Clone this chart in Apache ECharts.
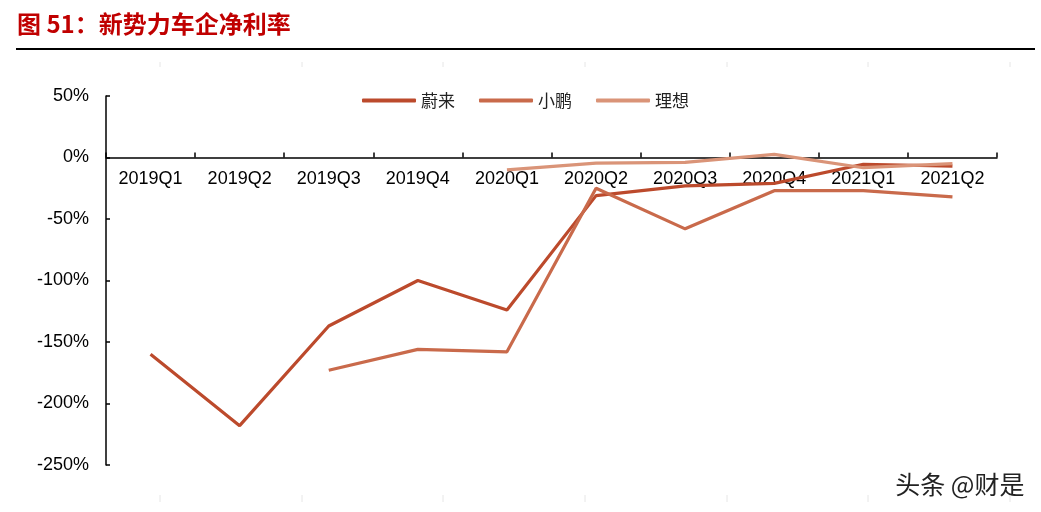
<!DOCTYPE html>
<html>
<head>
<meta charset="utf-8">
<script src="https://cdn.jsdelivr.net/npm/echarts@6/dist/echarts.min.js"></script>
<style>
html,body{margin:0;padding:0;background:#fff;}
#chart{width:1041px;height:512px;}
</style>
</head>
<body>
<div id="chart"></div>
<script>
const categories = ['2019Q1','2019Q2','2019Q3','2019Q4','2020Q1','2020Q2','2020Q3','2020Q4','2021Q1','2021Q2'];
const nio   = [-160, -218, -137, -100, -124, -31, -23, -21, -5.5, -7];
const xpeng = [null, null, -173, -156, -158, -25, -58, -27, -27, -32];
const li    = [null, null, null, null, -10, -4.5, -4, 2.6, -8.3, -5];
const seriesNames = ['蔚来','小鹏','理想'];
const colors = ['#BC4A2C','#C96A4B','#DA9478'];

const chart = echarts.init(document.getElementById('chart'), null, {renderer:'canvas'});
const cjk = '"Noto Sans CJK SC", sans-serif';
const latin = '"Liberation Sans", Arial, sans-serif';

const faint = [];
[160, 302, 443, 585, 727, 868, 1010].forEach(function(x){
  faint.push({type:'line', shape:{x1:x, y1:62, x2:x, y2:67}, style:{stroke:'#e6e6e6', lineWidth:1}, silent:true});
  faint.push({type:'line', shape:{x1:x, y1:495, x2:x, y2:502}, style:{stroke:'#e6e6e6', lineWidth:1}, silent:true});
});

const option = {
  animation: false,
  color: colors,
  grid: {left: 106, right: 44, top: 96, bottom: 47, containLabel: false},
  legend: {
    data: seriesNames,
    left: 362, top: 92,
    padding: 0,
    icon: 'roundRect',
    itemWidth: 54, itemHeight: 4,
    itemGap: 24,
    textStyle: {fontFamily: cjk, fontSize: 17, color: '#222'}
  },
  xAxis: {
    type: 'category',
    data: categories,
    boundaryGap: true,
    position: 'bottom',
    offset: -307.5,
    z: 3,
    axisLine: {onZero: false, lineStyle: {color: '#000', width: 1.5}},
    axisTick: {show: true, inside: true, length: 5, lineStyle: {color: '#000', width: 1.5}},
    axisLabel: {interval: 0, margin: 13, fontSize: 18, color: '#000', fontFamily: latin},
    splitLine: {show: false}
  },
  yAxis: {
    type: 'value',
    min: -250, max: 50, interval: 50,
    axisLine: {show: true, lineStyle: {color: '#000', width: 1.5}},
    axisTick: {show: true, inside: true, length: 4, lineStyle: {color: '#000', width: 1.5}},
    axisLabel: {formatter: '{value}%', margin: 17, fontSize: 18, color: '#000', fontFamily: latin},
    splitLine: {show: false}
  },
  series: [
    {name: seriesNames[0], type: 'line', data: nio, symbol: 'none', lineStyle: {width: 3.2, color: colors[0]}, itemStyle: {color: colors[0]}},
    {name: seriesNames[1], type: 'line', data: xpeng, symbol: 'none', lineStyle: {width: 3.2, color: colors[1]}, itemStyle: {color: colors[1]}},
    {name: seriesNames[2], type: 'line', data: li, symbol: 'none', lineStyle: {width: 3.2, color: colors[2]}, itemStyle: {color: colors[2]}}
  ],
  graphic: [
    {type: 'text', left: 17, top: 12, style: {text: '图 51：新势力车企净利率', fill: '#C00000', font: 'bold 24px "Noto Sans CJK SC", sans-serif'}},
    {type: 'line', shape: {x1: 16, y1: 49, x2: 1035, y2: 49}, style: {stroke: '#000', lineWidth: 2}},
    {type: 'text', right: 16, top: 471, style: {text: '头条 @财是', fill: '#222', stroke: '#fff', lineWidth: 1, font: '25px "Noto Sans CJK SC", sans-serif'}}
  ].concat(faint)
};
chart.setOption(option);
</script>
</body>
</html>
